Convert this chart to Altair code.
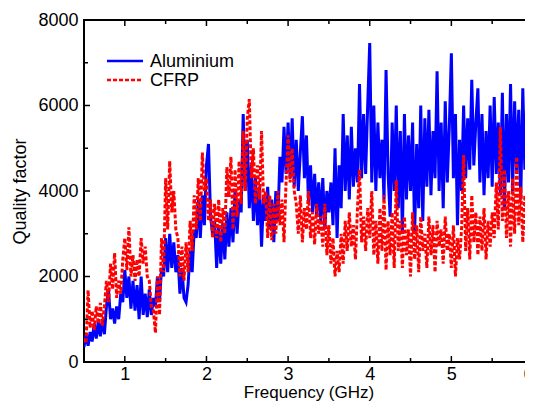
import altair as alt
import pandas as pd
import numpy as np

SERIES = ["Aluminium", "CFRP"]
COLORS = ["#0000FF", "#FF0000"]
FREQ_START = 0.5
FREQ_STEP = 0.025

ALU = [
    350, 650, 380, 700, 480, 900, 550, 950, 600, 1000, 650, 1300, 1700, 1000, 1250, 900, 1300, 1000, 1600, 1400,
    2150, 1500, 2000, 1250, 1900, 1200, 1800, 1000, 2000, 1100, 1600, 1050, 1700, 1100, 1500, 1300, 2000, 1400, 2200, 2000,
    2900, 2100, 3000, 2200, 2800, 2100, 2500, 1600, 2200, 1500, 1400, 1800, 2600, 2100, 3100, 2900, 3800, 2900, 3900, 3200,
    4600, 5100, 3400, 3000, 3300, 2200, 3200, 2300, 3250, 2400, 3500, 2700, 3600, 2800, 4000, 3000, 3800, 3500, 5800, 4000,
    5200, 3600, 4600, 3300, 4300, 3200, 4100, 2700, 3900, 3300, 4100, 3100, 3800, 2800, 4000, 3300, 4800, 4200, 5500, 4400,
    5600, 4300, 5700, 4100, 5200, 4000, 4900, 5750, 4300, 5300, 3700, 4600, 3500, 4400, 3400, 4200, 3300, 4300, 3100, 4000,
    3500, 4200, 3200, 5000, 2900, 4600, 3600, 5800, 4000, 5300, 3800, 5500, 4100, 5000, 4200, 6500, 4300, 5800, 4400, 6000,
    7460, 4200, 6000, 4000, 5600, 4300, 5200, 3800, 6830, 4400, 3400, 5600, 4000, 6000, 3600, 5400, 3000, 5800, 3800, 5300,
    4000, 5600, 3000, 5100, 3600, 6000, 3300, 5700, 4100, 5900, 3900, 5400, 4300, 6800, 4000, 5600, 3600, 6100, 4200, 5500,
    7220, 4300, 5800, 3200, 5200, 4000, 6000, 4300, 5700, 4500, 6600, 4600, 5600, 6400, 4200, 5800, 3900, 5400, 4300, 6000,
    4100, 6200, 4400, 5600, 3900, 6300, 3600, 5800, 4200, 6500, 4000, 6100, 4400, 5900, 3800, 6400, 4500, 6200, 4300, 7070, 5200,
]

CFRP = [
    550, 440, 1680, 800, 1200, 750, 1300, 900, 1380, 850, 1300, 1900, 1400, 2300, 1700, 2550, 1500, 1900, 1600, 2400,
    2900, 2150, 3150, 2000, 2500, 1900, 2400, 2000, 2900, 2300, 2700, 2000, 1900, 1300, 1200, 680, 2000, 1100, 2900, 2100,
    4300, 3100, 4700, 3500, 4000, 3100, 2900, 2000, 2700, 1900, 2800, 2100, 3300, 2600, 3900, 3100, 4300, 3300, 4900, 4000,
    4300, 3300, 3800, 2900, 3700, 2900, 3800, 2800, 3600, 3000, 4560, 3860, 4800, 3100, 4500, 3400, 4700, 3700, 5400, 4000,
    5700, 6150, 4300, 5000, 3700, 4600, 3800, 5400, 3700, 4000, 2900, 3900, 2850, 3700, 3000, 4000, 3200, 3800, 2800, 4200,
    5300, 4200, 5000, 4000, 3700, 3000, 3900, 2800, 3600, 3100, 4000, 2900, 3500, 2750, 3700, 3000, 3400, 2700, 3700, 2500,
    3200, 2300, 2900, 2000, 2600, 2100, 3000, 2300, 3300, 2600, 3500, 2700, 3200, 2400, 3600, 4500, 2800, 3400, 2600, 3600,
    2900, 4000, 2500, 3300, 2300, 3600, 2600, 3900, 2150, 3300, 2500, 3500, 2200, 4250, 2600, 3300, 2200, 3400, 2500, 3100,
    2000, 3500, 2400, 3200, 2100, 3400, 2600, 3000, 2200, 3400, 2500, 3200, 2100, 3300, 2700, 3100, 2300, 3400, 2600, 3000,
    2200, 3200, 2000, 2900, 2400, 3100, 4840, 2600, 3600, 2400, 3900, 2800, 3500, 2500, 3400, 2600, 3600, 2400, 3300, 2700,
    3500, 2900, 4200, 3100, 5500, 3300, 4500, 2900, 4000, 2700, 4300, 3000, 4800, 3200, 4100, 2800, 3900, 3300, 4600, 3000, 4200,
]

X_TICKS = [1, 2, 3, 4, 5, 6]
X_MINOR = [1.5, 2.5, 3.5, 4.5, 5.5]
Y_TICKS = [0, 2000, 4000, 6000, 8000]
Y_MINOR = [1000, 3000, 5000, 7000]

W, H = 449, 342
FONT = "Liberation Sans"

freq = np.round(FREQ_START + FREQ_STEP * np.arange(len(ALU)), 4)
df_alu = pd.DataFrame({"f": freq, "q": ALU, "series": SERIES[0]})
df_cfrp = pd.DataFrame({"f": freq, "q": CFRP, "series": SERIES[1]})

xscale = alt.Scale(domain=[0.5, 6], nice=False, zero=False)
yscale = alt.Scale(domain=[0, 8000], nice=False)

xaxis = alt.Axis(title="Frequency (GHz)", values=X_TICKS, format="d", grid=False, domain=False,
                 ticks=False, tickSize=0, labelPadding=3, titlePadding=1,
                 labelFontSize=18, titleFontSize=17, labelFont=FONT, titleFont=FONT,
                 labelColor="black", titleColor="black", titleFontWeight="normal")
yaxis = alt.Axis(title="Quality factor", values=Y_TICKS, format="d", grid=False, domain=False,
                 ticks=False, tickSize=0, labelPadding=6, titlePadding=8,
                 labelFontSize=18, titleFontSize=18, labelFont=FONT, titleFont=FONT,
                 labelColor="black", titleColor="black", titleFontWeight="normal")

alu = alt.Chart(df_alu).mark_line(color=COLORS[0], strokeWidth=3, clip=True).encode(
    x=alt.X("f:Q", scale=xscale, axis=xaxis),
    y=alt.Y("q:Q", scale=yscale, axis=yaxis),
)
cfrp = alt.Chart(df_cfrp).mark_line(color=COLORS[1], strokeWidth=3, strokeDash=[4, 2], clip=True).encode(
    x=alt.X("f:Q", scale=xscale, axis=xaxis),
    y=alt.Y("q:Q", scale=yscale, axis=yaxis),
)

def xticks(vals, length):
    d = pd.DataFrame({"f": vals})
    b = alt.Chart(d).mark_rule(color="black", strokeWidth=1.5).encode(
        x=alt.X("f:Q", scale=xscale, axis=xaxis), y=alt.value(H), y2=alt.value(H - length))
    t = alt.Chart(d).mark_rule(color="black", strokeWidth=1.5).encode(
        x=alt.X("f:Q", scale=xscale, axis=xaxis), y=alt.value(0), y2=alt.value(length))
    return [b, t]

def yticks(vals, length):
    d = pd.DataFrame({"q": vals})
    l = alt.Chart(d).mark_rule(color="black", strokeWidth=1.5).encode(
        y=alt.Y("q:Q", scale=yscale, axis=yaxis), x=alt.value(0), x2=alt.value(length))
    r = alt.Chart(d).mark_rule(color="black", strokeWidth=1.5).encode(
        y=alt.Y("q:Q", scale=yscale, axis=yaxis), x=alt.value(W), x2=alt.value(W - length))
    return [l, r]

one = pd.DataFrame({"a": [0]})
leg = [
    alt.Chart(one).mark_rule(color=COLORS[0], strokeWidth=2.5).encode(
        x=alt.value(23), x2=alt.value(59), y=alt.value(41)),
    alt.Chart(one).mark_rule(color=COLORS[1], strokeWidth=2.5, strokeDash=[4, 2]).encode(
        x=alt.value(23), x2=alt.value(59), y=alt.value(60)),
    alt.Chart(one).mark_text(align="left", baseline="middle", fontSize=18, font=FONT, color="black").encode(
        x=alt.value(66), y=alt.value(42), text=alt.value(SERIES[0])),
    alt.Chart(one).mark_text(align="left", baseline="middle", fontSize=18, font=FONT, color="black").encode(
        x=alt.value(66), y=alt.value(61), text=alt.value(SERIES[1])),
]

chart = alt.layer(
    alu, cfrp,
    *xticks(X_TICKS, 6), *xticks(X_MINOR, 4),
    *yticks(Y_TICKS, 6), *yticks(Y_MINOR, 4),
    *leg,
).properties(
    width=W, height=H,
    autosize="none",
    padding={"left": 76, "top": 12, "right": -8, "bottom": 40},
    background="white",
).configure_view(stroke="black", strokeWidth=2)

chart.save("out.html", embed_options={"renderer": "svg", "actions": False})
